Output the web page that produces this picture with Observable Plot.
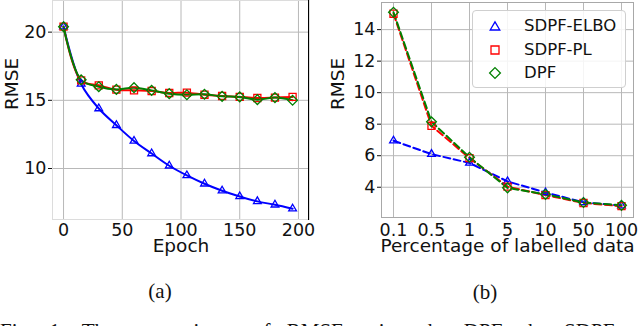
<!DOCTYPE html>
<html>
<head>
<meta charset="utf-8">
<script src="https://cdn.jsdelivr.net/npm/d3@7"></script>
<script src="https://cdn.jsdelivr.net/npm/@observablehq/plot@0.6"></script>
<style>
  html, body { margin: 0; padding: 0; background: #fff; }
  body { width: 640px; height: 326px; overflow: hidden; position: relative; font-family: "DejaVu Sans", sans-serif; }
  .panel { position: absolute; top: 0; }
  .cap { position: absolute; font-family: "Liberation Serif", "Times New Roman", serif; font-size: 21px; line-height: 24px; color: #111; white-space: nowrap; }
  #legend { position: absolute; left: 472px; top: 10px; width: 152px; height: 76px; border: 1px solid #cfcfcf; border-radius: 4px; background: rgba(255,255,255,0.85); font-size: 16.5px; }
  .lrow { position: absolute; left: 0; height: 20px; }
  .lrow svg { position: absolute; left: 14px; top: 2px; }
  .lrow span { position: absolute; left: 51px; top: 0px; line-height: 20px; color: #111; }
  #rule { position: absolute; left: 308px; top: 0; width: 1px; height: 220px; background: #000; }
</style>
</head>
<body>
<div id="left" class="panel" style="left:0"></div>
<div id="right" class="panel" style="left:320px"></div>
<div id="rule"></div>
<div id="legend"></div>
<div class="cap" style="left:120px; width:80px; text-align:center; top:279px">(a)</div>
<div class="cap" style="left:445px; width:80px; text-align:center; top:280px">(b)</div>
<div class="cap" style="left:0px; top:319px; word-spacing:11px">Fig. 1: The comparisons of RMSE using the DPF, the SDPF</div>
<script>
// ---- Panel (a): RMSE vs epoch ----
const epochs   = [0, 15, 30, 45, 60, 75, 90, 105, 120, 135, 150, 165, 180, 195];
const elboEpoch = [20.4, 16.2, 14.4, 13.17, 12.02, 11.1, 10.2, 9.49, 8.88, 8.37, 7.95, 7.59, 7.34, 7.05];
const plEpoch   = [20.4, 16.46, 16.1, 15.78, 15.73, 15.68, 15.54, 15.56, 15.41, 15.32, 15.25, 15.17, 15.2, 15.25];
const dpfEpoch  = [20.4, 16.5, 16.0, 15.8, 15.93, 15.73, 15.49, 15.41, 15.44, 15.29, 15.25, 15.05, 15.2, 15.0];
const epochTicks = [0, 50, 100, 150, 200];
const rmseTicksA = [10, 15, 20];

// ---- Panel (b): RMSE vs percentage of labelled data ----
const pctLabels = ["0.1", "0.5", "1", "5", "10", "50", "100"];
const elboPct = [6.95, 6.1, 5.54, 4.37, 3.67, 3.04, 2.83];
const plPct   = [15.01, 7.9, 5.85, 4.04, 3.5, 3.0, 2.8];
const dpfPct  = [15.1, 8.15, 5.9, 3.96, 3.55, 3.03, 2.85];
const rmseTicksB = [4, 6, 8, 10, 12, 14];

const seriesNames = ["SDPF-ELBO", "SDPF-PL", "DPF"];
const colors = {"SDPF-ELBO": "#0000ff", "SDPF-PL": "#ff0000", "DPF": "#008000"};
const symbols = {"SDPF-ELBO": "triangle2", "SDPF-PL": "square2", "DPF": "diamond2"};
const radii = {"SDPF-ELBO": 3.7, "SDPF-PL": 4.5, "DPF": 4.4};

function rows(xs, ys, name) { return xs.map((x, i) => ({x, y: ys[i], name})); }

const A = [rows(epochs, elboEpoch, "SDPF-ELBO"), rows(epochs, plEpoch, "SDPF-PL"), rows(epochs, dpfEpoch, "DPF")];
const B = [rows(pctLabels, elboPct, "SDPF-ELBO"), rows(pctLabels, plPct, "SDPF-PL"), rows(pctLabels, dpfPct, "DPF")];

const tickFont = {fontSize: 17.5, fontFamily: "DejaVu Sans"};
const titleFont = {fontSize: 18.5, fontFamily: "DejaVu Sans"};
const gridColor = "#b8b8b8";

function seriesMarks(data, dashed) {
  const marks = [];
  data.forEach(d => {
    const name = d[0].name;
    marks.push(Plot.line(d, {x: "x", y: "y", stroke: colors[name], strokeWidth: 2,
      curve: dashed ? "linear" : "catmull-rom",
      strokeDasharray: dashed ? "7,3.5" : null}));
  });
  data.forEach(d => {
    const name = d[0].name;
    marks.push(Plot.dot(d, {x: "x", y: "y", symbol: () => symbols[name], r: radii[name],
      stroke: colors[name], fill: "none", strokeWidth: 1.3}));
  });
  return marks;
}

const plotA = Plot.plot({
  width: 320, height: 270,
  marginLeft: 52, marginRight: 11, marginTop: 0, marginBottom: 51,
  style: {background: "transparent", fontFamily: "DejaVu Sans", fontSize: "17px", color: "#111"},
  symbol: {type: "identity"},
  x: {domain: [-9.4, 209.4], ticks: epochTicks},
  y: {domain: [6.26, 22.32], ticks: rmseTicksA},
  marks: [
    Plot.gridX(epochTicks, {stroke: gridColor, strokeOpacity: 1, strokeWidth: 1}),
    Plot.gridY(rmseTicksA, {stroke: gridColor, strokeOpacity: 1, strokeWidth: 1}),
    Plot.frame({stroke: "#dcdcdc"}),
    Plot.axisX(epochTicks, {tickSize: 0, tickPadding: 4, ...tickFont, label: null}),
    Plot.axisY(rmseTicksA, {tickSize: 4, tickPadding: 2, ...tickFont, label: null}),
    Plot.text(["Epoch"], {frameAnchor: "bottom", dy: 32.5, ...titleFont, fill: "#111"}),
    Plot.text(["RMSE"], {frameAnchor: "left", dx: -40, rotate: -90, ...titleFont, fill: "#111"}),
    ...seriesMarks(A, false)
  ]
});
document.getElementById("left").appendChild(plotA);

const plotB = Plot.plot({
  width: 320, height: 270,
  marginLeft: 61, marginRight: 7, marginTop: 2, marginBottom: 53,
  style: {background: "transparent", fontFamily: "DejaVu Sans", fontSize: "17px", color: "#111"},
  symbol: {type: "identity"},
  x: {type: "point", domain: pctLabels, padding: 0.26},
  y: {domain: [2.08, 15.72], ticks: rmseTicksB},
  marks: [
    Plot.gridX(pctLabels, {stroke: gridColor, strokeOpacity: 1, strokeWidth: 1}),
    Plot.gridY(rmseTicksB, {stroke: gridColor, strokeOpacity: 1, strokeWidth: 1}),
    Plot.frame({stroke: "#a8a8a8"}),
    Plot.axisX(pctLabels, {tickSize: 0, tickPadding: 6, ...tickFont, label: null}),
    Plot.axisY(rmseTicksB, {tickSize: 4, tickPadding: 2, ...tickFont, label: null}),
    Plot.text(["Percentage of labelled data"], {frameAnchor: "bottom", dy: 34.5, ...titleFont, fill: "#111"}),
    Plot.text(["RMSE"], {frameAnchor: "left", dx: -43, rotate: -90, ...titleFont, fill: "#111"}),
    ...seriesMarks(B, true)
  ]
});
document.getElementById("right").appendChild(plotB);

// ---- Legend ----
const legend = document.getElementById("legend");
const symPaths = {
  "SDPF-ELBO": "M0,-4.2L4.8,4L-4.8,4Z",
  "SDPF-PL": "M-4,-4H4V4H-4Z",
  "DPF": "M0,-5.4L5.4,0L0,5.4L-5.4,0Z"
};
seriesNames.forEach((name, i) => {
  const row = document.createElement("div");
  row.className = "lrow";
  row.style.top = (5 + i * 23.5) + "px";
  row.style.width = "150px";
  row.innerHTML = `<svg width="16" height="16" viewBox="-8 -8 16 16"><path d="${symPaths[name]}" fill="none" stroke="${colors[name]}" stroke-width="1.3"/></svg><span>${name}</span>`;
  legend.appendChild(row);
});
</script>
</body>
</html>
